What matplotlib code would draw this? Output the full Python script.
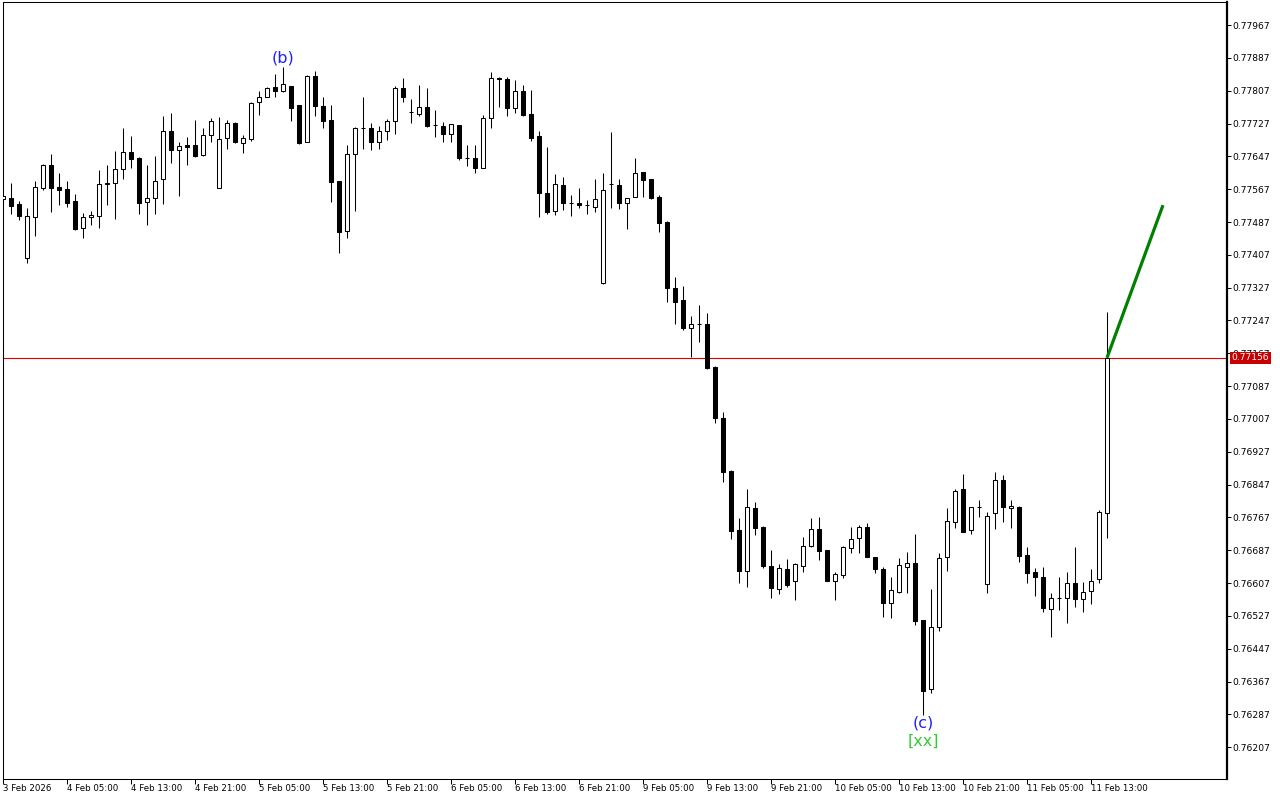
import numpy as np
import matplotlib
matplotlib.use('Agg')
import matplotlib.pyplot as plt

# H1 bars, 3 Feb 21:00 .. 11 Feb 15:00
opens = [
    0.77543, 0.77545, 0.77531, 0.77399, 0.77499, 0.77570, 0.77626, 0.77572, 0.77567, 0.77538,
    0.77472, 0.77499, 0.77502, 0.77580, 0.77582, 0.77616, 0.77658, 0.77643, 0.77536, 0.77545,
    0.77592, 0.77709, 0.77662, 0.77675, 0.77675, 0.77650, 0.77699, 0.77570, 0.77692, 0.77728,
    0.77679, 0.77689, 0.77779, 0.77792, 0.77816, 0.77806, 0.77818, 0.77772, 0.77682, 0.77843,
    0.77770, 0.77736, 0.77587, 0.77465, 0.77653, 0.77716, 0.77716, 0.77682, 0.77709, 0.77733,
    0.77813, 0.77755, 0.77750, 0.77767, 0.77723, 0.77721, 0.77701, 0.77723, 0.77643, 0.77643,
    0.77619, 0.77740, 0.77838, 0.77835, 0.77765, 0.77806, 0.77750, 0.77697, 0.77558, 0.77514,
    0.77577, 0.77533, 0.77533, 0.77528, 0.77524, 0.77338, 0.77580, 0.77577, 0.77533, 0.77548,
    0.77609, 0.77592, 0.77548, 0.77487, 0.77326, 0.77297, 0.77229, 0.77238, 0.77238, 0.77134,
    0.77009, 0.76880, 0.76736, 0.76637, 0.76790, 0.76744, 0.76649, 0.76593, 0.76641, 0.76612,
    0.76649, 0.76697, 0.76739, 0.76688, 0.76612, 0.76627, 0.76693, 0.76717, 0.76744, 0.76671,
    0.76641, 0.76559, 0.76585, 0.76646, 0.76656, 0.76517, 0.76349, 0.76500, 0.76671, 0.76756,
    0.76836, 0.76736, 0.76793, 0.76605, 0.76778, 0.76858, 0.76790, 0.76793, 0.76676, 0.76634,
    0.76622, 0.76544, 0.76571, 0.76571, 0.76607, 0.76568, 0.76588, 0.76617, 0.76778,
]
highs = [
    0.77560, 0.77582, 0.77538, 0.77521, 0.77587, 0.77628, 0.77653, 0.77606, 0.77587, 0.77555,
    0.77509, 0.77514, 0.77614, 0.77626, 0.77660, 0.77716, 0.77697, 0.77645, 0.77626, 0.77648,
    0.77745, 0.77753, 0.77682, 0.77694, 0.77736, 0.77716, 0.77740, 0.77743, 0.77736, 0.77731,
    0.77699, 0.77779, 0.77806, 0.77816, 0.77848, 0.77865, 0.77819, 0.77773, 0.77845, 0.77855,
    0.77792, 0.77771, 0.77588, 0.77675, 0.77718, 0.77792, 0.77728, 0.77721, 0.77738, 0.77818,
    0.77838, 0.77787, 0.77821, 0.77813, 0.77760, 0.77731, 0.77726, 0.77724, 0.77675, 0.77675,
    0.77748, 0.77852, 0.77840, 0.77840, 0.77833, 0.77821, 0.77809, 0.77709, 0.77670, 0.77604,
    0.77597, 0.77553, 0.77570, 0.77541, 0.77592, 0.77606, 0.77706, 0.77592, 0.77545, 0.77643,
    0.77610, 0.77593, 0.77553, 0.77489, 0.77353, 0.77331, 0.77258, 0.77285, 0.77265, 0.77135,
    0.77024, 0.76883, 0.76766, 0.76836, 0.76805, 0.76745, 0.76688, 0.76654, 0.76666, 0.76656,
    0.76719, 0.76766, 0.76768, 0.76688, 0.76634, 0.76697, 0.76744, 0.76749, 0.76754, 0.76671,
    0.76646, 0.76622, 0.76668, 0.76683, 0.76727, 0.76518, 0.76593, 0.76680, 0.76790, 0.76836,
    0.76873, 0.76793, 0.76810, 0.76780, 0.76878, 0.76870, 0.76810, 0.76796, 0.76695, 0.76644,
    0.76646, 0.76583, 0.76622, 0.76634, 0.76695, 0.76610, 0.76641, 0.76785, 0.77268,
]
lows = [
    0.77533, 0.77506, 0.77492, 0.77387, 0.77453, 0.77565, 0.77511, 0.77528, 0.77524, 0.77467,
    0.77448, 0.77480, 0.77472, 0.77528, 0.77494, 0.77592, 0.77619, 0.77506, 0.77480, 0.77506,
    0.77531, 0.77631, 0.77550, 0.77626, 0.77645, 0.77648, 0.77682, 0.77569, 0.77665, 0.77679,
    0.77655, 0.77684, 0.77748, 0.77791, 0.77792, 0.77804, 0.77733, 0.77677, 0.77681, 0.77745,
    0.77716, 0.77536, 0.77411, 0.77448, 0.77514, 0.77665, 0.77662, 0.77665, 0.77687, 0.77701,
    0.77779, 0.77728, 0.77745, 0.77718, 0.77694, 0.77682, 0.77682, 0.77638, 0.77623, 0.77606,
    0.77618, 0.77716, 0.77767, 0.77745, 0.77753, 0.77745, 0.77684, 0.77499, 0.77506, 0.77504,
    0.77516, 0.77502, 0.77521, 0.77506, 0.77511, 0.77337, 0.77521, 0.77519, 0.77470, 0.77547,
    0.77548, 0.77543, 0.77463, 0.77292, 0.77238, 0.77224, 0.77158, 0.77195, 0.77129, 0.76997,
    0.76853, 0.76715, 0.76607, 0.76598, 0.76724, 0.76644, 0.76571, 0.76581, 0.76598, 0.76566,
    0.76634, 0.76695, 0.76663, 0.76611, 0.76566, 0.76620, 0.76680, 0.76680, 0.76670, 0.76632,
    0.76524, 0.76522, 0.76583, 0.76583, 0.76505, 0.76286, 0.76339, 0.76490, 0.76637, 0.76741,
    0.76731, 0.76727, 0.76768, 0.76583, 0.76739, 0.76756, 0.76741, 0.76658, 0.76607, 0.76576,
    0.76537, 0.76476, 0.76542, 0.76510, 0.76549, 0.76537, 0.76556, 0.76607, 0.76717,
]
closes = [
    0.77550, 0.77526, 0.77502, 0.77502, 0.77572, 0.77626, 0.77570, 0.77565, 0.77533, 0.77470,
    0.77499, 0.77504, 0.77580, 0.77582, 0.77616, 0.77658, 0.77640, 0.77533, 0.77545, 0.77587,
    0.77709, 0.77662, 0.77672, 0.77670, 0.77648, 0.77699, 0.77733, 0.77689, 0.77728, 0.77682,
    0.77692, 0.77777, 0.77792, 0.77813, 0.77806, 0.77823, 0.77765, 0.77679, 0.77843, 0.77770,
    0.77733, 0.77584, 0.77463, 0.77653, 0.77716, 0.77715, 0.77682, 0.77709, 0.77733, 0.77813,
    0.77792, 0.77755, 0.77767, 0.77721, 0.77723, 0.77701, 0.77726, 0.77643, 0.77643, 0.77619,
    0.77740, 0.77838, 0.77835, 0.77765, 0.77806, 0.77748, 0.77692, 0.77558, 0.77511, 0.77580,
    0.77533, 0.77533, 0.77528, 0.77528, 0.77543, 0.77565, 0.77580, 0.77533, 0.77545, 0.77606,
    0.77589, 0.77545, 0.77485, 0.77326, 0.77292, 0.77229, 0.77238, 0.77238, 0.77131, 0.77009,
    0.76878, 0.76734, 0.76637, 0.76793, 0.76741, 0.76649, 0.76595, 0.76644, 0.76602, 0.76654,
    0.76697, 0.76739, 0.76685, 0.76612, 0.76629, 0.76695, 0.76715, 0.76744, 0.76671, 0.76641,
    0.76559, 0.76590, 0.76651, 0.76656, 0.76515, 0.76344, 0.76500, 0.76668, 0.76758, 0.76831,
    0.76732, 0.76793, 0.76793, 0.76771, 0.76858, 0.76793, 0.76795, 0.76673, 0.76632, 0.76622,
    0.76546, 0.76571, 0.76571, 0.76607, 0.76568, 0.76585, 0.76612, 0.76780, 0.77156,
]

# one label every 8 bars
time_labels = ['3 Feb 2026', '4 Feb 05:00', '4 Feb 13:00', '4 Feb 21:00', '5 Feb 05:00',
               '5 Feb 13:00', '5 Feb 21:00', '6 Feb 05:00', '6 Feb 13:00', '6 Feb 21:00',
               '9 Feb 05:00', '9 Feb 13:00', '9 Feb 21:00', '10 Feb 05:00', '10 Feb 13:00',
               '10 Feb 21:00', '11 Feb 05:00', '11 Feb 13:00']
price_ticks = [0.77967, 0.77887, 0.77807, 0.77727, 0.77647, 0.77567, 0.77487, 0.77407,
               0.77327, 0.77247, 0.77167, 0.77087, 0.77007, 0.76927, 0.76847, 0.76767,
               0.76687, 0.76607, 0.76527, 0.76447, 0.76367, 0.76287, 0.76207]

# projection line (green) from last close
proj_bars = [138, 145]
proj_prices = [0.77156, 0.77528]

o = np.array(opens)
h = np.array(highs)
l = np.array(lows)
c = np.array(closes)
x = np.arange(len(o))
up = c >= o

fig = plt.figure(figsize=(12.8, 8), dpi=100)
ax = fig.add_axes([2.5 / 1280, 21 / 800, 1224 / 1280, 777 / 800])

ax.vlines(x, l, h, color='black', lw=0.75, zorder=2)
lo = np.minimum(o, c)
hh = np.abs(c - o)
ax.bar(x[up], hh[up], bottom=lo[up], width=0.5, facecolor='white',
       edgecolor='black', lw=0.75, zorder=3)
ax.bar(x[~up], hh[~up], bottom=lo[~up], width=0.5, facecolor='black',
       edgecolor='black', lw=0.75, zorder=3)

last = closes[-1]
ax.axhline(last, color='#e00000', lw=0.8, zorder=1)
ax.plot(proj_bars, proj_prices, color='#008000', lw=2.3, solid_capstyle='butt', zorder=4)

# wave labels
ax.annotate('(b)', (35, highs[35]), xytext=(0, 1), textcoords='offset pixels',
            ha='center', va='bottom', color='#2020ff', fontsize=11.5)
ax.annotate('(c)', (115, lows[115]), xytext=(0, -1), textcoords='offset pixels',
            ha='center', va='top', color='#2020ff', fontsize=11.5)
ax.annotate('[xx]', (115, lows[115]), xytext=(0, -19), textcoords='offset pixels',
            ha='center', va='top', color='#33cc33', fontsize=11.5)

ax.set_xlim(-0.06, 152.94)
ax.set_ylim(0.761297, 0.780231)

ax.yaxis.tick_right()
ax.set_yticks(price_ticks)
ax.set_yticklabels([f'{v:.5f}' for v in price_ticks])
ax.tick_params(axis='y', direction='out', length=3, width=0.75, pad=1, labelsize=6.6)

ax.set_xticks(np.arange(len(time_labels)) * 8)
ax.set_xticklabels(time_labels, ha='left')
ax.tick_params(axis='x', direction='out', length=3.3, width=0.75, pad=0.5, labelsize=6.2)

for s in ax.spines.values():
    s.set_linewidth(0.75)
ax.spines['right'].set_linewidth(1.6)

ax.annotate(f'{last:.5f}', xy=(1, last), xycoords=('axes fraction', 'data'),
            xytext=(5, 0), textcoords='offset pixels', ha='left', va='center',
            color='white', fontsize=6.6, annotation_clip=False,
            bbox=dict(boxstyle='square,pad=0.2', fc='#c80000', ec='none'))

fig.savefig('out.png', dpi=100)
